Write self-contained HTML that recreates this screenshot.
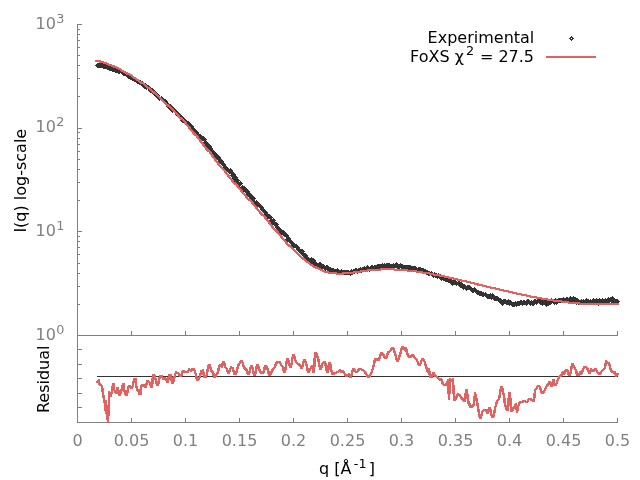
<!DOCTYPE html>
<html lang="en"><head><meta charset="utf-8"><title>FoXS profile fit</title>
<style>html,body{margin:0;padding:0;background:#fff;overflow:hidden}svg{display:block;will-change:transform;transform:translateZ(0)}</style>
</head><body>
<svg width="640" height="480" viewBox="0 0 640 480">
<rect width="640" height="480" fill="#fff"/>
<g stroke="#808080" stroke-width="1" fill="none" shape-rendering="crispEdges">
<path d="M77.5 24.0V422.5H618.0M77.5 335.5H618.0"/>
<path d="M77.5 335.5h4.5M77.5 304.5h2.5M77.5 286.5h2.5M77.5 273.5h2.5M77.5 263.5h2.5M77.5 254.5h2.5M77.5 247.5h2.5M77.5 241.5h2.5M77.5 236.5h2.5M77.5 231.5h4.5M77.5 200.5h2.5M77.5 182.5h2.5M77.5 169.5h2.5M77.5 159.5h2.5M77.5 151.5h2.5M77.5 144.5h2.5M77.5 138.5h2.5M77.5 132.5h2.5M77.5 128.5h4.5M77.5 96.5h2.5M77.5 78.5h2.5M77.5 65.5h2.5M77.5 55.5h2.5M77.5 47.5h2.5M77.5 40.5h2.5M77.5 34.5h2.5M77.5 29.5h2.5M77.5 24.5h4.5M131.5 335.5v-4.5M131.5 422.5v-4.5M185.5 335.5v-4.5M185.5 422.5v-4.5M239.5 335.5v-4.5M239.5 422.5v-4.5M293.5 335.5v-4.5M293.5 422.5v-4.5M347.5 335.5v-4.5M347.5 422.5v-4.5M401.5 335.5v-4.5M401.5 422.5v-4.5M455.5 335.5v-4.5M455.5 422.5v-4.5M509.5 335.5v-4.5M509.5 422.5v-4.5M563.5 335.5v-4.5M563.5 422.5v-4.5M617.5 335.5v-4.5M617.5 422.5v-4.5M77.5 349.5h4.5M77.5 364.5h4.5M77.5 378.5h4.5M77.5 393.5h4.5M77.5 407.5h4.5"/>
</g>
<path d="M97 63.5h6M96 64.5h10M95 65.5h14M96 66.5h16M97 67.5h18M103 68.5h15M107 69.5h13M121 69.5h1M109 70.5h14M112 71.5h14M115 72.5h12M118 73.5h2M121 73.5h7M122 74.5h8M123 75.5h9M126 76.5h7M127 77.5h9M128 78.5h9M130 79.5h9M132 80.5h9M134 81.5h9M136 82.5h8M137 83.5h9M139 84.5h8M141 85.5h8M142 86.5h8M143 87.5h8M144 88.5h9M146 89.5h1M148 89.5h6M148 90.5h7M149 91.5h7M150 92.5h7M152 93.5h6M153 94.5h6M154 95.5h6M155 96.5h5M161 96.5h1M156 97.5h7M157 98.5h7M158 99.5h8M159 100.5h1M161 100.5h6M162 101.5h6M163 102.5h5M164 103.5h5M165 104.5h6M166 105.5h6M166 106.5h7M167 107.5h7M168 108.5h7M169 109.5h7M170 110.5h7M171 111.5h7M172 112.5h1M174 112.5h5M175 113.5h5M175 114.5h6M176 115.5h6M177 116.5h6M178 117.5h6M180 118.5h5M181 119.5h5M180 120.5h7M181 121.5h8M182 122.5h8M184 123.5h7M185 124.5h7M188 125.5h5M188 126.5h6M189 127.5h5M190 128.5h5M190 129.5h6M191 130.5h6M192 131.5h6M193 132.5h6M194 133.5h5M195 134.5h6M196 135.5h6M197 136.5h7M198 137.5h7M199 138.5h7M201 139.5h6M202 140.5h4M204 141.5h3M203 142.5h5M204 143.5h5M205 144.5h5M205 145.5h6M206 146.5h6M207 147.5h5M206 148.5h7M207 149.5h6M208 150.5h6M210 151.5h5M210 152.5h6M211 153.5h6M212 154.5h6M214 155.5h5M214 156.5h6M215 157.5h6M216 158.5h5M217 159.5h5M218 160.5h5M218 161.5h6M219 162.5h5M220 163.5h5M221 164.5h5M222 165.5h4M223 166.5h4M222 167.5h6M223 168.5h6M230 168.5h1M224 169.5h8M225 170.5h8M226 171.5h7M228 172.5h6M229 173.5h6M231 174.5h5M230 175.5h6M231 176.5h6M232 177.5h6M232 178.5h6M233 179.5h6M234 180.5h6M234 181.5h5M240 181.5h1M235 182.5h7M236 183.5h7M237 184.5h5M238 185.5h3M242 185.5h1M239 186.5h1M241 186.5h4M240 187.5h6M241 188.5h6M241 189.5h7M242 190.5h7M243 191.5h7M245 192.5h5M246 193.5h5M246 194.5h6M247 195.5h6M248 196.5h6M249 197.5h6M250 198.5h6M251 199.5h4M252 200.5h3M256 200.5h1M253 201.5h5M252 202.5h7M253 203.5h7M254 204.5h7M256 205.5h6M257 206.5h6M259 207.5h5M260 208.5h4M260 209.5h5M261 210.5h5M262 211.5h5M263 212.5h5M264 213.5h4M264 214.5h6M265 215.5h6M266 216.5h6M265 217.5h8M266 218.5h6M273 218.5h1M267 219.5h1M270 219.5h5M269 220.5h7M270 221.5h5M270 222.5h7M271 223.5h7M272 224.5h7M274 225.5h4M275 226.5h4M275 227.5h5M276 228.5h5M277 229.5h5M278 230.5h6M279 231.5h6M279 232.5h7M280 233.5h7M281 234.5h7M283 235.5h6M284 236.5h5M286 237.5h4M286 238.5h5M285 239.5h6M286 240.5h6M287 241.5h6M289 242.5h5M290 243.5h5M291 244.5h6M291 245.5h7M292 246.5h7M293 247.5h7M296 248.5h4M296 249.5h7M297 250.5h7M298 251.5h7M299 252.5h5M300 253.5h6M301 254.5h6M302 255.5h6M303 256.5h5M304 257.5h5M311 257.5h1M305 258.5h9M306 259.5h9M307 260.5h9M308 261.5h8M310 262.5h7M319 262.5h2M396 262.5h1M311 263.5h11M382 263.5h1M384 263.5h1M386 263.5h4M393 263.5h1M395 263.5h3M400 263.5h1M312 264.5h12M377 264.5h26M314 265.5h11M326 265.5h2M367 265.5h1M371 265.5h2M374 265.5h37M316 266.5h13M364 266.5h1M366 266.5h3M370 266.5h46M317 267.5h14M360 267.5h1M362 267.5h55M418 267.5h3M318 268.5h1M320 268.5h14M337 268.5h1M355 268.5h2M358 268.5h24M383 268.5h1M385 268.5h1M391 268.5h2M394 268.5h1M397 268.5h3M401 268.5h23M321 269.5h1M324 269.5h15M341 269.5h1M351 269.5h1M353 269.5h23M404 269.5h22M325 270.5h1M327 270.5h22M350 270.5h17M368 270.5h3M373 270.5h1M411 270.5h17M328 271.5h35M365 271.5h1M369 271.5h1M416 271.5h1M418 271.5h12M431 271.5h1M331 272.5h29M361 272.5h1M421 272.5h12M434 272.5h1M334 273.5h2M337 273.5h18M357 273.5h1M424 273.5h13M438 273.5h1M338 274.5h3M342 274.5h11M426 274.5h15M350 275.5h1M428 275.5h2M431 275.5h12M432 276.5h12M433 277.5h1M435 277.5h13M437 278.5h1M439 278.5h12M440 279.5h12M441 280.5h1M443 280.5h13M445 281.5h12M458 281.5h2M448 282.5h14M450 283.5h13M451 284.5h14M452 285.5h1M456 285.5h1M458 285.5h8M467 285.5h3M459 286.5h12M460 287.5h12M474 287.5h1M462 288.5h14M463 289.5h1M465 289.5h12M466 290.5h1M470 290.5h9M471 291.5h11M472 292.5h2M475 292.5h9M485 292.5h1M476 293.5h11M490 293.5h1M492 293.5h1M477 294.5h17M479 295.5h16M482 296.5h2M485 296.5h13M570 296.5h1M573 296.5h1M612 296.5h1M486 297.5h13M539 297.5h1M563 297.5h1M566 297.5h2M569 297.5h7M608 297.5h1M610 297.5h4M487 298.5h14M538 298.5h3M551 298.5h1M555 298.5h1M558 298.5h20M586 298.5h1M593 298.5h1M596 298.5h1M599 298.5h1M602 298.5h1M605 298.5h1M607 298.5h8M491 299.5h1M493 299.5h9M503 299.5h3M508 299.5h1M527 299.5h2M534 299.5h2M537 299.5h5M543 299.5h1M545 299.5h1M549 299.5h30M581 299.5h1M583 299.5h1M585 299.5h4M590 299.5h1M592 299.5h26M494 300.5h17M520 300.5h2M523 300.5h2M526 300.5h4M531 300.5h1M533 300.5h86M498 301.5h14M515 301.5h1M517 301.5h103M499 302.5h64M564 302.5h1M568 302.5h2M574 302.5h36M611 302.5h8M500 303.5h38M539 303.5h13M553 303.5h5M575 303.5h11M587 303.5h18M607 303.5h1M612 303.5h6M501 304.5h3M506 304.5h22M529 304.5h6M536 304.5h1M540 304.5h11M554 304.5h1M556 304.5h1M576 304.5h1M578 304.5h1M580 304.5h1M582 304.5h1M584 304.5h1M589 304.5h1M591 304.5h1M594 304.5h1M597 304.5h3M603 304.5h1M613 304.5h1M502 305.5h1M509 305.5h1M511 305.5h9M522 305.5h1M526 305.5h1M530 305.5h1M532 305.5h2M542 305.5h1M545 305.5h4M598 305.5h1M512 306.5h3M516 306.5h1M546 306.5h1" stroke="#333333" stroke-width="1" fill="none" shape-rendering="crispEdges"/>
<path d="M95 60.5h6M95 61.5h9M99 62.5h8M103 63.5h6M106 64.5h6M108 65.5h7M111 66.5h6M113 67.5h6M116 68.5h5M118 69.5h4M120 70.5h4M121 71.5h5M123 72.5h5M125 73.5h5M126 74.5h6M129 75.5h4M131 76.5h3M132 77.5h4M133 78.5h4M135 79.5h4M136 80.5h4M138 81.5h4M139 82.5h5M140 83.5h5M143 84.5h3M144 85.5h3M145 86.5h3M146 87.5h4M147 88.5h4M149 89.5h3M150 90.5h3M151 91.5h4M152 92.5h4M153 93.5h4M155 94.5h3M156 95.5h3M157 96.5h3M158 97.5h3M159 98.5h3M160 99.5h3M161 100.5h3M162 101.5h3M163 102.5h3M164 103.5h3M165 104.5h4M166 105.5h4M167 106.5h4M169 107.5h3M170 108.5h3M171 109.5h3M172 110.5h3M173 111.5h3M174 112.5h3M175 113.5h3M176 114.5h3M177 115.5h3M177 116.5h3M178 117.5h4M179 118.5h4M180 119.5h4M182 120.5h3M183 121.5h3M184 122.5h3M184 123.5h3M185 124.5h3M186 125.5h3M187 126.5h3M188 127.5h3M188 128.5h3M189 129.5h3M190 130.5h3M191 131.5h3M192 132.5h3M192 133.5h4M193 134.5h4M194 135.5h4M196 136.5h3M196 137.5h3M197 138.5h3M198 139.5h3M199 140.5h3M199 141.5h3M200 142.5h3M201 143.5h3M202 144.5h3M202 145.5h3M203 146.5h3M204 147.5h3M205 148.5h3M205 149.5h4M206 150.5h4M207 151.5h4M209 152.5h3M209 153.5h3M210 154.5h3M211 155.5h3M211 156.5h3M212 157.5h3M213 158.5h3M214 159.5h3M214 160.5h3M215 161.5h3M216 162.5h3M217 163.5h3M217 164.5h3M218 165.5h3M219 166.5h3M220 167.5h3M221 168.5h3M222 169.5h3M223 170.5h3M224 171.5h3M224 172.5h3M225 173.5h3M226 174.5h3M227 175.5h3M227 176.5h3M228 177.5h3M229 178.5h3M230 179.5h3M231 180.5h3M231 181.5h3M232 182.5h4M233 183.5h4M234 184.5h4M236 185.5h3M236 186.5h3M237 187.5h3M238 188.5h3M239 189.5h3M240 190.5h3M240 191.5h3M241 192.5h3M242 193.5h3M243 194.5h3M244 195.5h3M245 196.5h3M245 197.5h3M246 198.5h4M247 199.5h4M248 200.5h4M250 201.5h3M251 202.5h3M251 203.5h3M252 204.5h3M253 205.5h3M254 206.5h3M255 207.5h3M255 208.5h3M256 209.5h3M257 210.5h3M258 211.5h3M259 212.5h3M259 213.5h4M260 214.5h4M261 215.5h4M263 216.5h3M264 217.5h3M264 218.5h3M265 219.5h3M266 220.5h3M267 221.5h3M268 222.5h3M268 223.5h3M269 224.5h3M270 225.5h3M271 226.5h3M271 227.5h3M272 228.5h3M273 229.5h4M274 230.5h4M275 231.5h4M276 232.5h3M277 233.5h3M278 234.5h3M279 235.5h3M280 236.5h3M280 237.5h3M281 238.5h3M282 239.5h3M283 240.5h3M284 241.5h3M285 242.5h3M285 243.5h3M286 244.5h4M287 245.5h4M288 246.5h4M290 247.5h3M291 248.5h3M292 249.5h3M293 250.5h3M294 251.5h3M295 252.5h3M296 253.5h3M297 254.5h3M298 255.5h3M299 256.5h3M300 257.5h4M301 258.5h4M302 259.5h4M304 260.5h3M305 261.5h4M306 262.5h4M308 263.5h3M309 264.5h4M310 265.5h4M312 266.5h5M313 267.5h6M315 268.5h6M380 268.5h15M318 269.5h5M367 269.5h41M320 270.5h5M360 270.5h21M394 270.5h23M322 271.5h7M353 271.5h15M407 271.5h16M324 272.5h13M342 272.5h19M416 272.5h14M328 273.5h26M422 273.5h12M336 274.5h8M429 274.5h11M433 275.5h12M439 276.5h10M444 277.5h10M448 278.5h10M453 279.5h9M457 280.5h10M461 281.5h10M466 282.5h9M470 283.5h9M474 284.5h9M477 285.5h10M482 286.5h9M486 287.5h10M490 288.5h10M495 289.5h9M499 290.5h10M503 291.5h10M508 292.5h9M512 293.5h10M516 294.5h11M521 295.5h10M526 296.5h11M530 297.5h12M536 298.5h12M541 299.5h13M547 300.5h15M553 301.5h16M561 302.5h19M568 303.5h51M579 304.5h40" stroke="#e26261" stroke-width="1" fill="none" shape-rendering="crispEdges"/>
<path d="M97 376.5H618" stroke="#333333" stroke-width="1" fill="none" shape-rendering="crispEdges"/>
<path d="M96.5 381v2M97.5 380v3M98.5 379v6M99.5 379v7M100.5 383v3M101.5 384v8M102.5 385v13M103.5 388v15M104.5 395v16M105.5 400v14M106.5 400v20M107.5 405v18M108.5 391v32M109.5 391v25M110.5 392v5M111.5 386v11M112.5 383v11M113.5 383v8M114.5 383v10M115.5 390v4M116.5 387v7M117.5 387v7M118.5 387v9M119.5 390v6M120.5 389v7M121.5 385v9M122.5 383v8M123.5 383v9M124.5 383v12M125.5 390v6M126.5 390v6M127.5 386v10M128.5 385v8M129.5 385v3M130.5 385v4M131.5 386v3M132.5 381v8M133.5 378v9M134.5 378v5M135.5 378v10M136.5 378v13M137.5 386v6M138.5 389v6M139.5 389v6M140.5 385v10M141.5 384v11M142.5 384v3M143.5 384v3M144.5 384v4M145.5 383v5M146.5 380v8M147.5 380v5M148.5 380v3M149.5 381v5M150.5 382v6M151.5 378v10M152.5 374v14M153.5 374v10M154.5 374v6M155.5 375v9M156.5 378v8M157.5 381v5M158.5 377v9M159.5 375v9M160.5 375v4M161.5 375v3M162.5 375v5M163.5 377v3M164.5 377v3M165.5 377v4M166.5 378v5M167.5 377v6M168.5 374v9M169.5 374v6M170.5 374v7M171.5 374v10M172.5 377v7M173.5 376v8M174.5 373v9M175.5 371v7M176.5 371v3M177.5 372v2M178.5 372v4M179.5 373v4M180.5 374v3M181.5 371v6M182.5 370v6M183.5 370v3M184.5 370v3M185.5 371v2M186.5 371v2M187.5 370v3M188.5 368v5M189.5 368v3M190.5 369v3M191.5 368v4M192.5 368v3M193.5 368v3M194.5 368v6M195.5 370v9M196.5 373v8M197.5 376v5M198.5 377v4M199.5 373v7M200.5 370v8M201.5 370v5M202.5 369v6M203.5 369v9M204.5 372v6M205.5 375v3M206.5 369v9M207.5 365v11M208.5 364v8M209.5 364v5M210.5 364v8M211.5 367v6M212.5 370v6M213.5 371v7M214.5 373v5M215.5 374v4M216.5 372v5M217.5 368v7M218.5 365v9M219.5 364v7M220.5 364v3M221.5 363v5M222.5 361v7M223.5 361v5M224.5 361v7M225.5 363v6M226.5 367v5M227.5 368v6M228.5 370v4M229.5 368v6M230.5 366v6M231.5 366v3M232.5 367v5M233.5 367v8M234.5 370v5M235.5 371v4M236.5 367v8M237.5 364v9M238.5 363v6M239.5 361v5M240.5 360v4M241.5 360v3M242.5 360v7M243.5 362v7M244.5 365v5M245.5 367v4M246.5 368v6M247.5 369v6M248.5 371v4M249.5 367v8M250.5 365v8M251.5 365v4M252.5 365v9M253.5 367v9M254.5 371v5M255.5 366v10M256.5 364v10M257.5 364v5M258.5 364v7M259.5 366v7M260.5 369v5M261.5 371v3M262.5 371v3M263.5 367v7M264.5 365v8M265.5 365v5M266.5 365v5M267.5 366v8M268.5 368v8M269.5 371v5M270.5 371v5M271.5 369v6M272.5 368v5M273.5 367v4M274.5 364v5M275.5 362v6M276.5 361v5M277.5 361v3M278.5 361v2M279.5 361v3M280.5 361v5M281.5 363v4M282.5 365v6M283.5 366v7M284.5 367v6M285.5 361v12M286.5 358v12M287.5 358v6M288.5 358v8M289.5 360v8M290.5 363v5M291.5 357v11M292.5 354v11M293.5 354v5M294.5 354v7M295.5 356v7M296.5 360v4M297.5 362v3M298.5 363v3M299.5 363v4M300.5 364v5M301.5 365v4M302.5 361v8M303.5 359v8M304.5 359v4M305.5 359v7M306.5 361v10M307.5 364v9M308.5 368v5M309.5 368v5M310.5 366v5M311.5 365v4M312.5 365v8M313.5 358v15M314.5 352v21M315.5 352v15M316.5 352v6M317.5 353v9M318.5 356v11M319.5 359v11M320.5 365v5M321.5 363v7M322.5 362v6M323.5 361v3M324.5 361v5M325.5 361v10M326.5 363v10M327.5 365v8M328.5 362v11M329.5 362v8M330.5 362v10M331.5 364v11M332.5 370v5M333.5 372v3M334.5 372v3M335.5 372v2M336.5 371v3M337.5 371v2M338.5 370v3M339.5 369v3M340.5 369v4M341.5 370v3M342.5 370v3M343.5 370v4M344.5 371v5M345.5 373v4M346.5 374v3M347.5 374v3M348.5 373v3M349.5 373v5M350.5 374v4M351.5 370v8M352.5 368v8M353.5 368v4M354.5 368v4M355.5 369v4M356.5 371v2M357.5 369v4M358.5 368v4M359.5 368v3M360.5 368v2M361.5 368v3M362.5 369v2M363.5 369v3M364.5 370v4M365.5 371v4M366.5 372v5M367.5 374v4M368.5 375v3M369.5 374v4M370.5 372v5M371.5 369v6M372.5 365v8M373.5 360v10M374.5 358v9M375.5 358v5M376.5 358v3M377.5 358v3M378.5 357v4M379.5 354v7M380.5 352v7M381.5 352v4M382.5 352v4M383.5 353v5M384.5 354v5M385.5 356v3M386.5 353v6M387.5 351v7M388.5 351v4M389.5 350v3M390.5 348v4M391.5 347v4M392.5 347v3M393.5 347v6M394.5 348v8M395.5 351v9M396.5 354v8M397.5 358v4M398.5 355v7M399.5 352v8M400.5 348v9M401.5 346v8M402.5 346v4M403.5 346v4M404.5 347v4M405.5 347v5M406.5 347v8M407.5 349v8M408.5 353v5M409.5 355v3M410.5 355v3M411.5 354v4M412.5 354v3M413.5 354v4M414.5 355v4M415.5 357v3M416.5 358v4M417.5 359v6M418.5 361v5M419.5 363v3M420.5 360v6M421.5 358v6M422.5 358v3M423.5 358v4M424.5 359v7M425.5 361v8M426.5 364v8M427.5 367v6M428.5 368v7M429.5 368v10M430.5 371v7M431.5 374v4M432.5 372v6M433.5 372v4M434.5 372v5M435.5 374v3M436.5 375v3M437.5 376v3M438.5 377v3M439.5 378v3M440.5 378v3M441.5 378v6M442.5 379v6M443.5 382v4M444.5 384v2M445.5 383v3M446.5 381v5M447.5 379v15M448.5 379v21M449.5 378v22M450.5 378v16M451.5 379v3M452.5 378v16M453.5 378v23M454.5 385v16M455.5 396v5M456.5 394v6M457.5 393v5M458.5 393v3M459.5 394v3M460.5 394v5M461.5 396v4M462.5 397v4M463.5 398v4M464.5 393v9M465.5 389v13M466.5 389v10M467.5 389v15M468.5 394v12M469.5 401v7M470.5 403v5M471.5 405v3M472.5 404v4M473.5 396v11M474.5 392v14M475.5 392v9M476.5 394v12M477.5 398v14M478.5 403v14M479.5 409v10M480.5 414v5M481.5 411v8M482.5 410v6M483.5 409v3M484.5 409v2M485.5 409v3M486.5 409v5M487.5 409v5M488.5 407v7M489.5 407v5M490.5 407v9M491.5 409v9M492.5 414v4M493.5 410v8M494.5 406v11M495.5 402v11M496.5 400v7M497.5 399v5M498.5 395v6M499.5 389v11M500.5 386v12M501.5 386v6M502.5 386v9M503.5 388v15M504.5 393v14M505.5 398v12M506.5 405v6M507.5 398v13M508.5 392v19M509.5 392v14M510.5 392v20M511.5 398v14M512.5 407v5M513.5 406v5M514.5 404v5M515.5 403v7M516.5 403v10M517.5 405v8M518.5 402v9M519.5 401v5M520.5 401v3M521.5 401v2M522.5 400v3M523.5 400v3M524.5 400v2M525.5 400v3M526.5 401v2M527.5 399v4M528.5 398v4M529.5 398v2M530.5 398v3M531.5 398v3M532.5 399v3M533.5 393v9M534.5 389v13M535.5 388v10M536.5 386v4M537.5 385v4M538.5 385v2M539.5 385v5M540.5 386v7M541.5 388v6M542.5 391v3M543.5 390v4M544.5 388v5M545.5 386v5M546.5 384v5M547.5 383v4M548.5 381v5M549.5 381v4M550.5 381v6M551.5 382v5M552.5 379v8M553.5 379v7M554.5 379v7M555.5 383v3M556.5 380v6M557.5 378v6M558.5 376v5M559.5 375v4M560.5 374v3M561.5 372v5M562.5 371v5M563.5 371v4M564.5 370v5M565.5 369v5M566.5 369v3M567.5 369v6M568.5 370v6M569.5 372v4M570.5 366v10M571.5 363v11M572.5 363v6M573.5 363v5M574.5 365v5M575.5 367v7M576.5 369v7M577.5 371v5M578.5 373v3M579.5 371v5M580.5 371v4M581.5 370v5M582.5 368v6M583.5 366v6M584.5 366v3M585.5 366v2M586.5 366v4M587.5 367v5M588.5 368v6M589.5 370v4M590.5 368v6M591.5 368v4M592.5 369v3M593.5 369v3M594.5 368v4M595.5 368v3M596.5 368v5M597.5 370v4M598.5 372v3M599.5 372v3M600.5 371v4M601.5 370v4M602.5 369v3M603.5 368v3M604.5 363v7M605.5 360v9M606.5 360v6M607.5 361v3M608.5 362v4M609.5 362v8M610.5 364v8M611.5 368v5M612.5 370v3M613.5 371v3M614.5 371v4M615.5 371v6M616.5 373v4M617.5 373v3M618.5 373v2" stroke="#e26261" stroke-width="1" fill="none" shape-rendering="crispEdges"/>
<path d="M571 36h1v1h1v1h1v1h-1v1h-1v1h-1v-1h-1v-1h-1v-1h1v-1h1zM571 38v1h1v-1z" fill="#333333" shape-rendering="crispEdges"/>
<path d="M546 57H596" stroke="#e26261" stroke-width="2" shape-rendering="crispEdges"/>
<g font-family="'DejaVu Sans','Liberation Sans',sans-serif" font-size="16">
<text x="534.3" y="43" text-anchor="end" fill="#000">Experimental</text>
<text x="534" y="62" text-anchor="end" fill="#000">FoXS χ<tspan font-size="12.8" dx="2" dy="-7">2</tspan><tspan dy="7" dx="0.7"> = 27.5</tspan></text>
<text x="35.5" y="339.7" fill="#808080">10<tspan font-size="12.8" dy="-6" dx="0.5">0</tspan></text>
<text x="35.5" y="236.0" fill="#808080">10<tspan font-size="12.8" dy="-6" dx="0.5">1</tspan></text>
<text x="35.5" y="132.4" fill="#808080">10<tspan font-size="12.8" dy="-6" dx="0.5">2</tspan></text>
<text x="35.5" y="28.7" fill="#808080">10<tspan font-size="12.8" dy="-6" dx="0.5">3</tspan></text>
<text x="77.5" y="445.8" text-anchor="middle" fill="#808080">0</text>
<text x="131.5" y="445.8" text-anchor="middle" fill="#808080">0.05</text>
<text x="185.5" y="445.8" text-anchor="middle" fill="#808080">0.1</text>
<text x="239.5" y="445.8" text-anchor="middle" fill="#808080">0.15</text>
<text x="293.5" y="445.8" text-anchor="middle" fill="#808080">0.2</text>
<text x="347.5" y="445.8" text-anchor="middle" fill="#808080">0.25</text>
<text x="401.5" y="445.8" text-anchor="middle" fill="#808080">0.3</text>
<text x="455.5" y="445.8" text-anchor="middle" fill="#808080">0.35</text>
<text x="509.5" y="445.8" text-anchor="middle" fill="#808080">0.4</text>
<text x="563.5" y="445.8" text-anchor="middle" fill="#808080">0.45</text>
<text x="617.5" y="445.8" text-anchor="middle" fill="#808080">0.5</text>
<text transform="translate(26.3 180.7) rotate(-90)" text-anchor="middle" fill="#000">I(q) log-scale</text>
<text transform="translate(49.2 379.3) rotate(-90)" text-anchor="middle" fill="#000">Residual</text>
<text x="319" y="473.6" fill="#000">q [Å<tspan font-size="12.8" dx="2.4" dy="-6">-1</tspan><tspan dy="6" dx="2.1">]</tspan></text>
</g>
</svg>
</body></html>
